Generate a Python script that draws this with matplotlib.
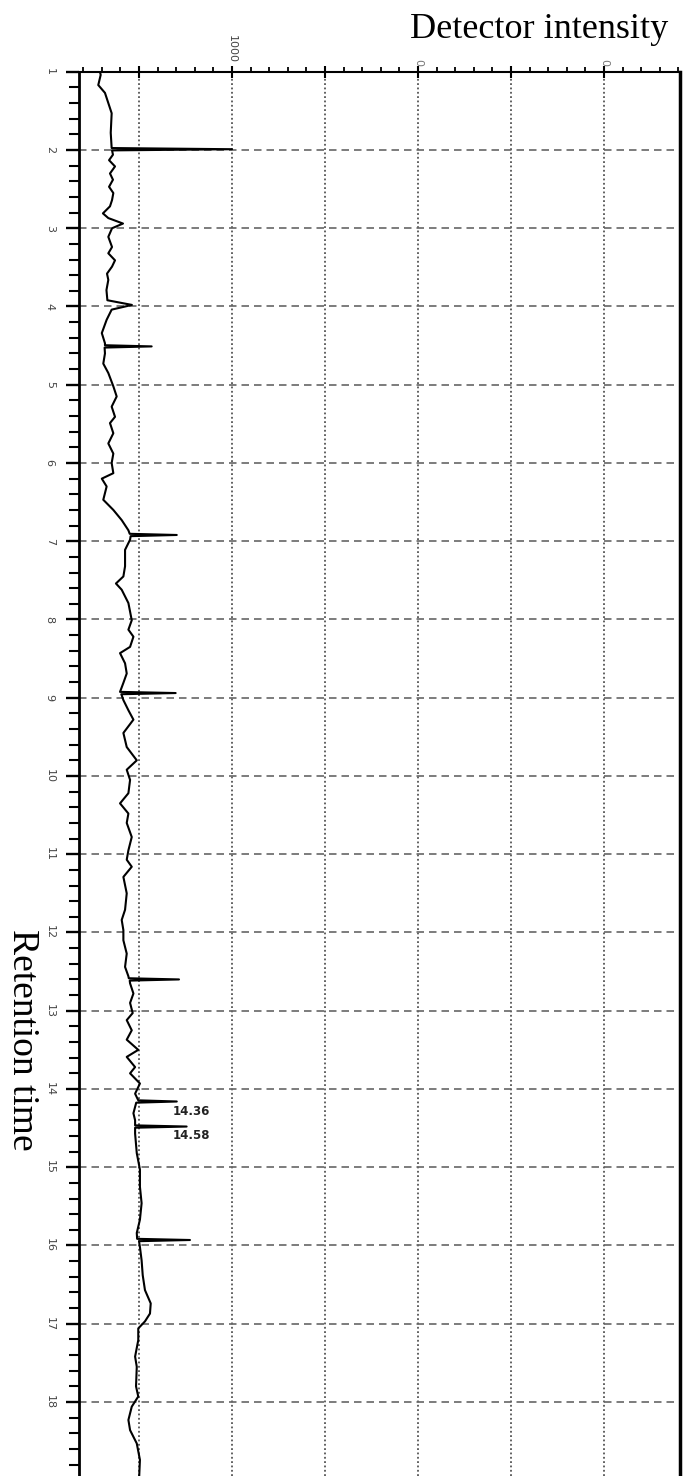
import matplotlib
matplotlib.use("Agg")
import matplotlib.pyplot as plt
from matplotlib.ticker import MultipleLocator

# retention time (min) and detector intensity
rt = [1.00, 1.04, 1.17, 1.27, 1.53, 1.78, 1.96, 1.975, 1.99, 2.005, 2.06, 2.13, 2.21, 2.30,
      2.38, 2.47, 2.55, 2.64, 2.72, 2.81, 2.87, 2.94, 3.00, 3.11, 3.24, 3.32, 3.41, 3.49,
      3.58, 3.66, 3.79, 3.92, 3.98, 4.04, 4.17, 4.34, 4.47, 4.495, 4.51, 4.525, 4.60, 4.73,
      4.85, 5.02, 5.15, 5.28, 5.41, 5.49, 5.62, 5.75, 5.88, 6.00, 6.13, 6.20, 6.30, 6.47,
      6.60, 6.73, 6.86, 6.905, 6.92, 6.935, 6.98, 7.11, 7.32, 7.45, 7.54, 7.62, 7.79, 8.01,
      8.13, 8.22, 8.35, 8.43, 8.56, 8.69, 8.81, 8.925, 8.94, 8.955, 9.03, 9.16, 9.28, 9.45,
      9.63, 9.80, 9.92, 10.05, 10.22, 10.35, 10.48, 10.60, 10.78, 10.95, 11.07, 11.16, 11.29,
      11.50, 11.71, 11.84, 11.97, 12.10, 12.27, 12.44, 12.56, 12.585, 12.60, 12.615, 12.65,
      12.78, 12.90, 13.03, 13.12, 13.25, 13.37, 13.50, 13.59, 13.72, 13.80, 13.93, 14.06,
      14.145, 14.16, 14.175, 14.23, 14.31, 14.40, 14.465, 14.48, 14.495, 14.57, 14.82, 15.03,
      15.25, 15.46, 15.67, 15.84, 15.915, 15.93, 15.945, 16.02, 16.19, 16.38, 16.57, 16.74,
      16.87, 16.97, 17.06, 17.21, 17.42, 17.55, 17.80, 17.93, 18.06, 18.23, 18.36, 18.53,
      18.74, 18.91, 19.00]
intensity = [290, 294, 281, 317, 353, 348, 353, 353, 1000, 355, 360, 339, 371, 344,
             360, 339, 362, 355, 344, 306, 335, 414, 355, 335, 355, 335, 371, 355,
             328, 335, 325, 330, 462, 353, 326, 300, 317, 317, 568, 315, 317, 308,
             335, 362, 380, 353, 371, 344, 362, 335, 362, 353, 362, 300, 326, 308,
             362, 407, 443, 450, 703, 455, 452, 425, 425, 416, 376, 407, 443, 461,
             443, 470, 452, 398, 425, 434, 416, 398, 697, 405, 416, 443, 470, 416,
             434, 488, 434, 452, 443, 398, 443, 434, 461, 443, 434, 461, 416,
             434, 425, 407, 416, 416, 434, 425, 443, 445, 715, 450, 452,
             470, 452, 466, 434, 461, 434, 496, 434, 479, 452, 505, 479,
             496, 703, 485, 479, 470, 479, 479, 756, 479, 479, 488, 505,
             505, 514, 505, 488, 490, 774, 500, 505, 514, 520, 532, 563,
             559, 532, 496, 496, 479, 488, 484, 496, 461, 443, 452, 488,
             505, 502, 500]

peak_labels = ['14.36', '14.58']
peak_label_rt = [14.29, 14.60]

x_lim = (177.4, 3408.6)
y_lim = (18.946, 1.0)

plt.rcParams['font.family'] = ['DejaVu Sans']
fig = plt.figure(figsize=(6.88, 14.76), dpi=100)
ax = fig.add_axes([79 / 688, 0.0, 601 / 688, (1476 - 71.75) / 1476])

ax.plot(intensity, rt, color='k', linewidth=1.5)

ax.set_xlim(*x_lim)
ax.set_ylim(*y_lim)

# grid: dotted verticals, dashed horizontals
for v in [500, 1000, 1500, 2000, 2500, 3000]:
    ax.axvline(v, color='#555555', linewidth=1.3, linestyle=(0, (1, 1.4)), zorder=0)
for t in range(2, 19):
    ax.axhline(t, color='#666666', linewidth=1.2, linestyle=(0, (4.5, 3)), zorder=0)

ax.xaxis.tick_top()
ax.xaxis.set_major_locator(MultipleLocator(500))
ax.xaxis.set_minor_locator(MultipleLocator(100))
ax.xaxis.set_major_formatter(plt.NullFormatter())
ax.yaxis.set_minor_locator(MultipleLocator(0.2))
ax.set_yticks(range(1, 19))
ax.set_yticklabels([str(i) for i in range(1, 19)], rotation=-90, va='center',
                   fontsize=8, color='#444444')
ax.tick_params(axis='y', which='major', direction='out', length=9.5, width=1.7, pad=8)
ax.tick_params(axis='y', which='minor', direction='out', length=7, width=1.5)
ax.tick_params(axis='x', which='major', direction='inout', length=8, width=1.5)
ax.tick_params(axis='x', which='minor', direction='out', length=3.5, width=1.3)

xt = ax.get_xaxis_transform()
ax.text(1000, 1.006, '1000', rotation=-90, ha='center', va='bottom', fontsize=8,
        color='#444444', transform=xt, clip_on=False)
for v in [2000, 3000]:
    ax.text(v, 1.004, '0', rotation=-90, ha='center', va='bottom', fontsize=8,
            color='#777777', transform=xt, clip_on=False)

for s, t in zip(peak_labels, peak_label_rt):
    ax.text(683, t, s, fontsize=8.5, fontweight='bold', color='#222222',
            ha='left', va='center')

ax.spines['bottom'].set_visible(False)
ax.spines['left'].set_linewidth(2.0)
ax.spines['top'].set_linewidth(1.5)
ax.spines['right'].set_linewidth(2.5)

fig.text(668 / 688, 1 - 30 / 1476, 'Detector intensity', family='Liberation Serif',
         fontsize=26, ha='right', va='center')
fig.text(22 / 688, 1 - 1040 / 1476, 'Retention time', family='Liberation Serif',
         fontsize=27, rotation=-90, ha='center', va='center')

fig.savefig('out.png', dpi=100)
